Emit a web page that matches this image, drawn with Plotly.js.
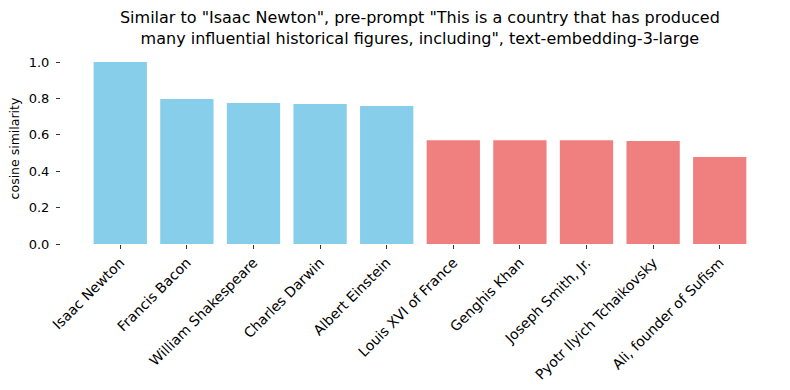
<!DOCTYPE html>
<html>
<head>
<meta charset="utf-8">
<script src="https://cdn.plot.ly/plotly-3.0.1.min.js"></script>
<style>html,body{margin:0;padding:0;background:#fff;}#chart{width:790px;height:390px;}</style>
</head>
<body>
<div id="chart"></div>
<script>
const names = ["Isaac Newton","Francis Bacon","William Shakespeare","Charles Darwin","Albert Einstein","Louis XVI of France","Genghis Khan","Joseph Smith, Jr.","Pyotr Ilyich Tchaikovsky","Ali, founder of Sufism"];
const similarity = [1.0, 0.797, 0.775, 0.769, 0.758, 0.571, 0.571, 0.571, 0.566, 0.478];
const groupColors = ["#87CEEB","#87CEEB","#87CEEB","#87CEEB","#87CEEB","#F08080","#F08080","#F08080","#F08080","#F08080"];
const yTicks = [0, 0.2, 0.4, 0.6, 0.8, 1.0];
const yTickText = ["0.0","0.2","0.4","0.6","0.8","1.0"];

const idx = names.map((_, i) => i);
const trace = {
  type: "bar",
  x: idx,
  y: similarity,
  width: 0.8,
  marker: {color: groupColors, line: {width: 0}},
  hoverinfo: "skip"
};
const layout = {
  width: 790, height: 390,
  margin: {l: 61, r: 11, t: 53, b: 146},
  paper_bgcolor: "#fff", plot_bgcolor: "#fff",
  font: {family: "DejaVu Sans", size: 12, color: "#000"},
  title: {
    text: 'Similar to "Isaac Newton", pre-prompt "This is a country that has produced<br>many influential historical figures, including", text-embedding-3-large',
    font: {size: 16, color: "#000"},
    x: 0.5315, xanchor: "center", y: 0.94, yanchor: "middle"
  },
  xaxis: {
    range: [-0.89, 9.89],
    tickmode: "array", tickvals: idx, ticktext: names,
    tickangle: -45,
    ticks: "outside", ticklen: 4, tickcolor: "#333", tickwidth: 1,
    showgrid: false, zeroline: false, showline: false,
    tickfont: {size: 14}
  },
  yaxis: {
    range: [0, 1.05],
    tickmode: "array", tickvals: yTicks, ticktext: yTickText,
    ticks: "outside", ticklen: 4, tickcolor: "#333", tickwidth: 1,
    ticklabelstandoff: 4,
    showgrid: false, zeroline: false, showline: false,
    tickfont: {size: 13},
    title: {text: "cosine similarity", font: {size: 12.5}, standoff: 6}
  },
  showlegend: false
};
Plotly.newPlot("chart", [trace], layout, {displayModeBar: false, staticPlot: true});
</script>
</body>
</html>
